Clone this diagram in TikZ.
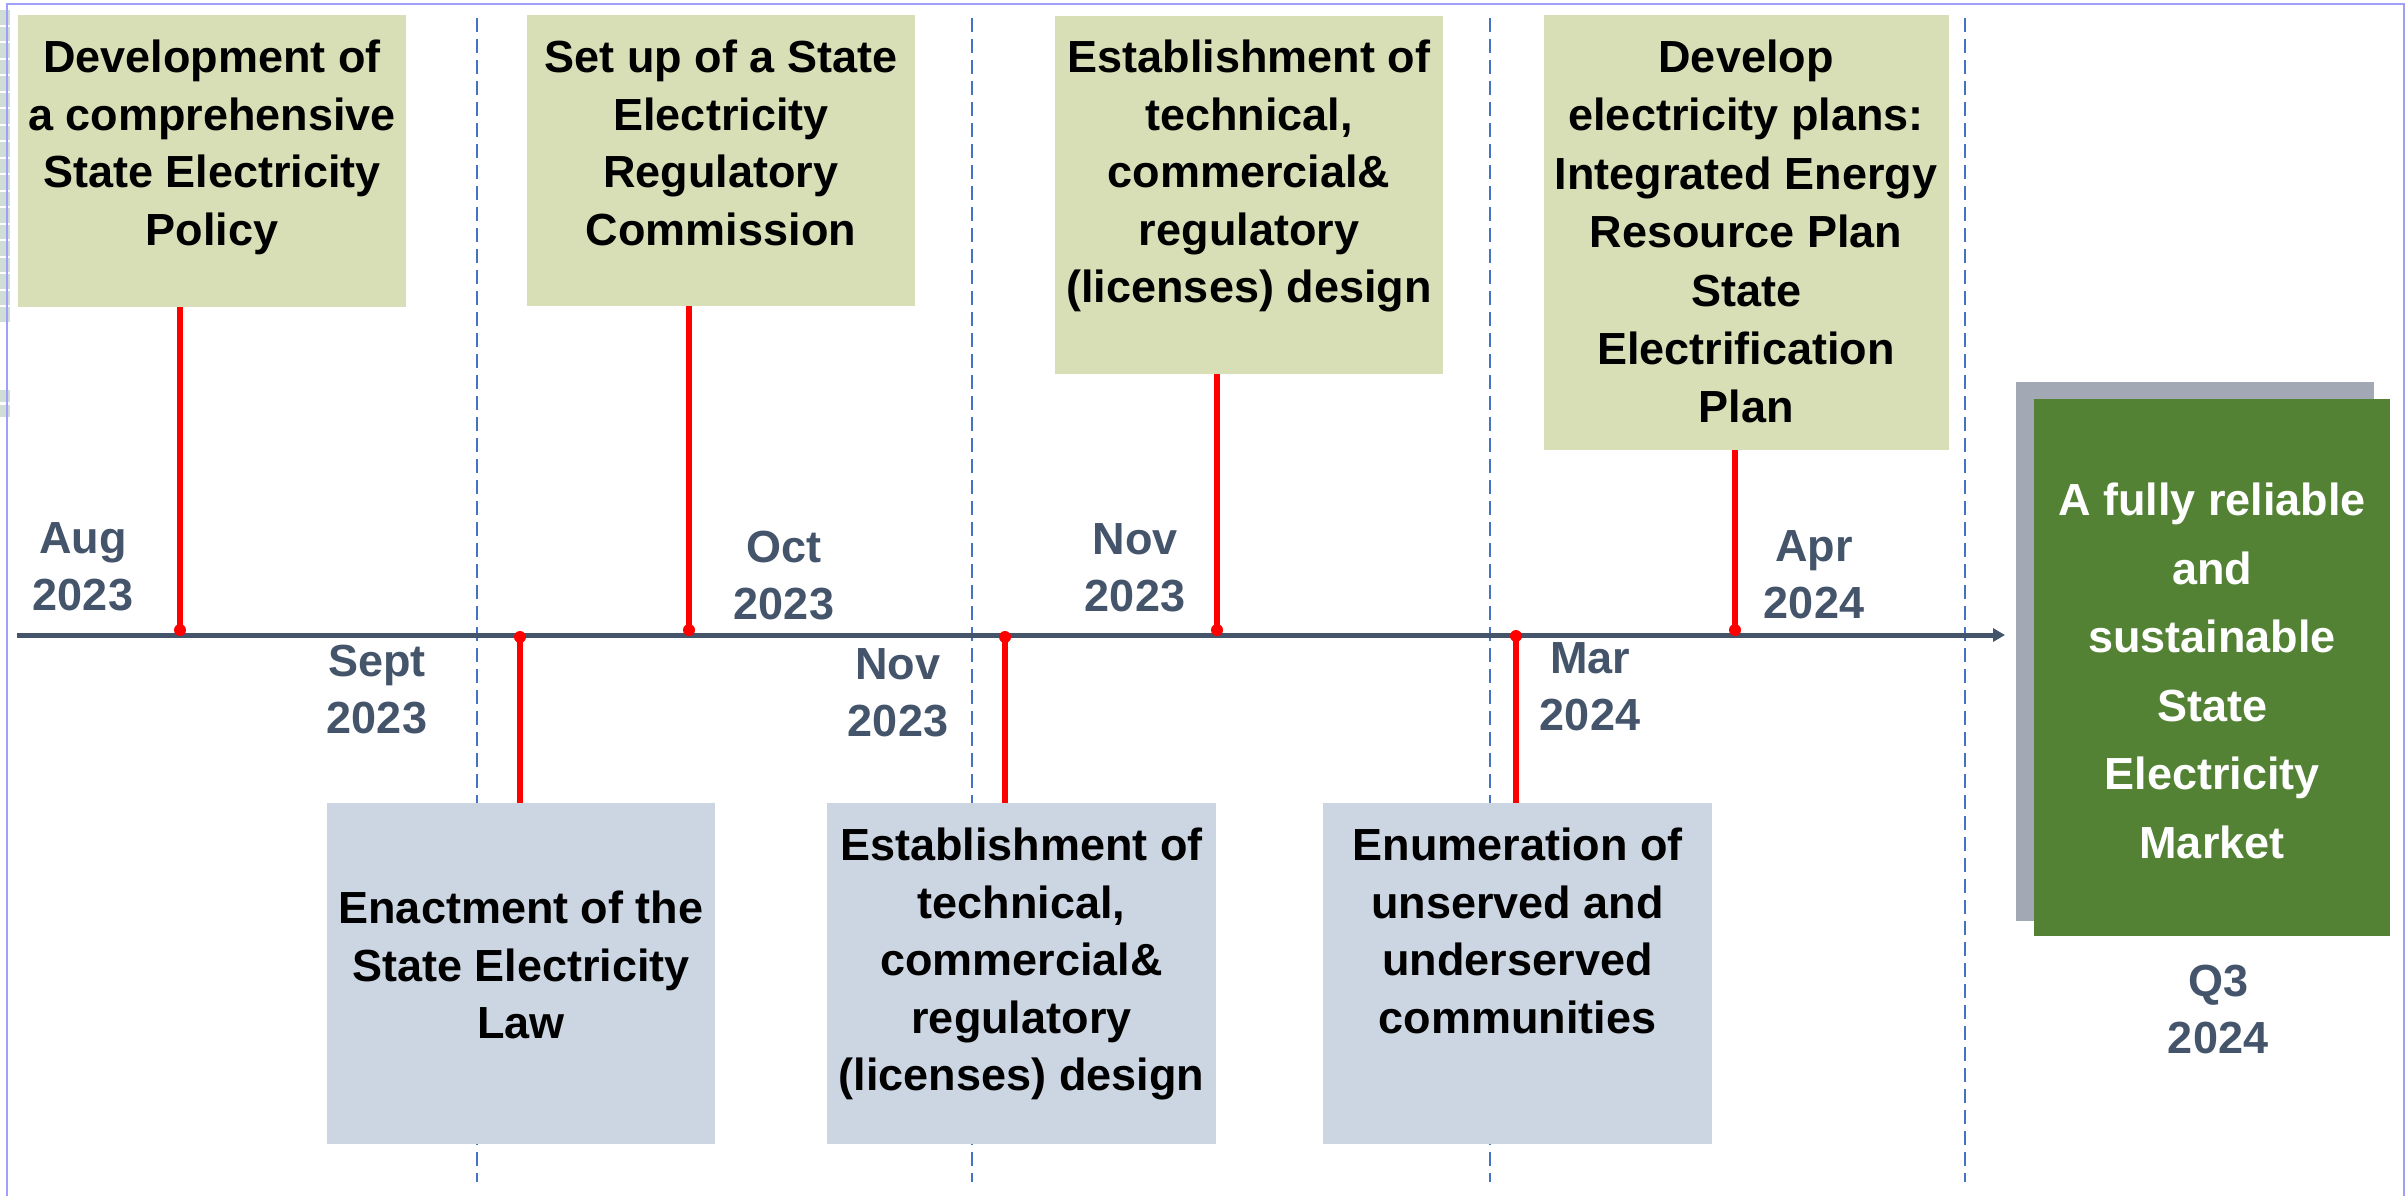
\documentclass[tikz,border=0pt]{standalone}
\usepackage{fontspec}
\setmainfont{Liberation Sans}
\usetikzlibrary{arrows.meta}
\definecolor{boxgreen}{HTML}{D8DFB7}
\definecolor{boxblue}{HTML}{CCD6E2}
\definecolor{darkgreen}{HTML}{548235}
\definecolor{shadowgrey}{HTML}{A2A9B4}
\definecolor{datecol}{HTML}{44546A}
\definecolor{dashcol}{HTML}{4472C4}
\definecolor{framecol}{HTML}{A0A0F8}
\definecolor{edgecol}{HTML}{D0DCD6}
\definecolor{linkred}{HTML}{FF0000}
\begin{document}
\begin{tikzpicture}[x=0.5pt,y=-0.5pt,
  panel/.style={inner sep=0pt, outer sep=0pt, draw=none},
  txt/.style={font=\fontsize{22.5}{28.8}\selectfont\bfseries, align=center, inner sep=0pt, anchor=north},
  datelbl/.style={txt, text=datecol, font=\fontsize{22.5}{28.5}\selectfont\bfseries},
  gridline/.style={draw=dashcol, line width=1.2pt, dash pattern=on 7pt off 3.5pt},
  redlink/.style={draw=linkred, line width=2.9pt},
  axisline/.style={draw=datecol, line width=2.5pt, -{Triangle[length=6pt,width=6.5pt]}}
]
\useasboundingbox (0,0) rectangle (2407,1196);
\fill[white] (0,0) rectangle (2407,1196);
% left edge artefacts
\foreach \i in {0,...,18} { \fill[edgecol] (0,{10+\i*16.5}) rectangle (10,{24.5+\i*16.5}); }
\fill[edgecol] (0,390) rectangle (10,402);
\fill[edgecol] (0,405) rectangle (10,417);
% frame
\draw[framecol, line width=1pt] (7,1196) -- (7,4) -- (2404,4) -- (2404,1196);
% dashed grid
\foreach \gx in {477,972,1490,1965} { \draw[gridline] (\gx,18) -- (\gx,1182); }
% axis
\coordinate (axstart) at (17,635);
\coordinate (axend) at (2005,635);
\draw[axisline] (axstart) -- (axend);
% top boxes
\node[panel, fill=boxgreen, minimum width=194pt, minimum height=146pt] (b1) at (212,161) {};
\node[panel, fill=boxgreen, minimum width=194pt, minimum height=145.5pt] (b2) at (721,160.5) {};
\node[panel, fill=boxgreen, minimum width=194pt, minimum height=179pt] (b3) at (1249,194.5) {};
\node[panel, fill=boxgreen, minimum width=202.5pt, minimum height=217.5pt] (b4) at (1746,232.5) {};
% bottom boxes
\node[panel, fill=boxblue, minimum width=194pt, minimum height=170.5pt] (b5) at (521,973.5) {};
\node[panel, fill=boxblue, minimum width=194.5pt, minimum height=170.5pt] (b6) at (1021.5,973.5) {};
\node[panel, fill=boxblue, minimum width=194.5pt, minimum height=170.5pt] (b7) at (1517.5,973.5) {};
% final box
\node[panel, fill=shadowgrey, minimum width=179pt, minimum height=269.5pt] (shadow) at (2195,651.5) {};
\node[panel, fill=darkgreen, minimum width=178pt, minimum height=268.5pt] (goal) at (2212,667.5) {};
% box texts
\node[txt] (t1) at (212,39.5) {Development of\\a comprehensive\\State Electricity\\Policy};
\node[txt] (t2) at (721,39.5) {Set up of a State\\Electricity\\Regulatory\\Commission};
\node[txt] (t3) at (1249,39.5) {Establishment of\\technical,\\commercial\&\\regulatory\\(licenses) design};
\node[txt, font=\fontsize{22.5}{29.2}\selectfont\bfseries] (t4) at (1746,39.5) {Develop\\electricity plans:\\Integrated Energy\\Resource Plan\\State\\Electrification\\Plan};
\node[txt] (t5) at (521,890.5) {Enactment of the\\State Electricity\\Law};
\node[txt] (t6) at (1021.5,827.5) {Establishment of\\technical,\\commercial\&\\regulatory\\(licenses) design};
\node[txt] (t7) at (1517.5,827.5) {Enumeration of\\unserved and\\underserved\\communities};
\node[txt, text=white, font=\fontsize{22.5}{34.3}\selectfont\bfseries] (tg) at (2212,482.5) {A fully reliable\\and\\sustainable\\State\\Electricity\\Market};
% date labels
\node[datelbl] (aug) at (83,522.5) {Aug\\2023};
\node[datelbl] (sep) at (377,644.5) {Sept\\2023};
\node[datelbl] (oct) at (784,530.5) {Oct\\2023};
\node[datelbl] (novb) at (898,648.5) {Nov\\2023};
\node[datelbl] (novt) at (1135,523.5) {Nov\\2023};
\node[datelbl] (mar) at (1590,642.5) {Mar\\2024};
\node[datelbl] (apr) at (1814,530.5) {Apr\\2024};
\node[datelbl] (q3) at (2218,964.5) {Q3\\2024};
% connector points on axis
\coordinate (d1) at (180,630);
\coordinate (d2) at (520,637);
\coordinate (d3) at (689,630);
\coordinate (d4) at (1005,637);
\coordinate (d5) at (1217,630);
\coordinate (d6) at (1516,636);
\coordinate (d7) at (1735,630);
% connectors
\draw[redlink] (d1 |- b1.south) -- (d1);
\draw[redlink] (d3 |- b2.south) -- (d3);
\draw[redlink] (d5 |- b3.south) -- (d5);
\draw[redlink] (d7 |- b4.south) -- (d7);
\draw[redlink] (d2) -- (d2 |- b5.north);
\draw[redlink] (d4) -- (d4 |- b6.north);
\draw[redlink] (d6) -- (d6 |- b7.north);
\foreach \d in {d1,d2,d3,d4,d5,d6,d7} { \fill[linkred] (\d) circle (3pt); }
\end{tikzpicture}
\end{document}
